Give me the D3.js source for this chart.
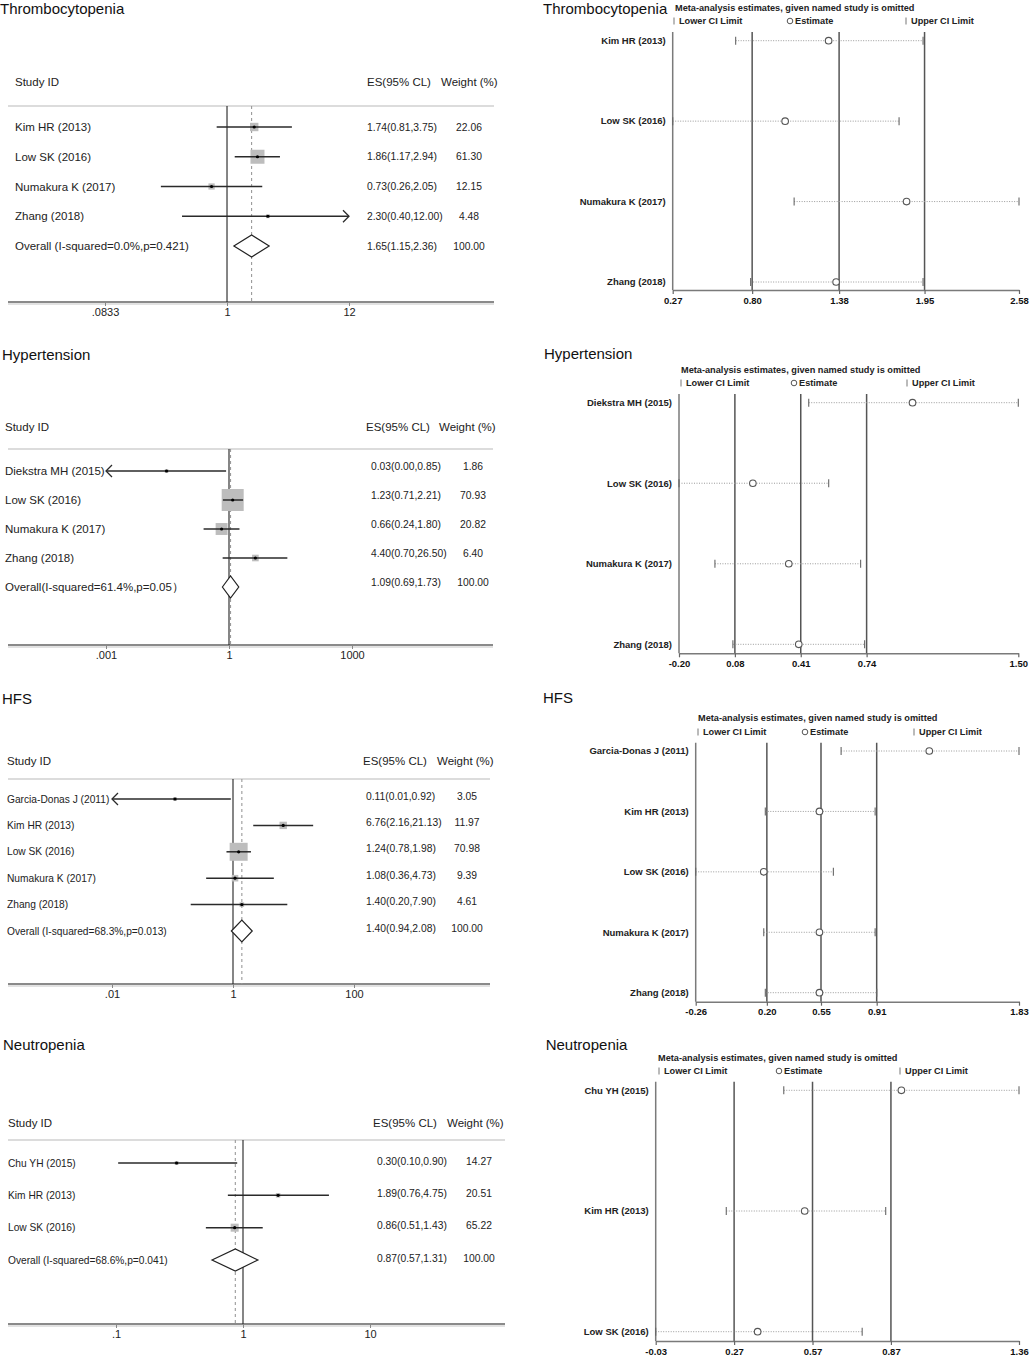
<!DOCTYPE html>
<html><head><meta charset="utf-8">
<script src="https://cdn.jsdelivr.net/npm/d3@7"></script>
<style>
body{margin:0;background:#fff}
svg{display:block;font-family:"Liberation Sans",Arial,sans-serif}
</style>
</head><body>
<svg id="c" width="1031" height="1356"></svg>
<script>
// ---------------- DATA: forest plots (left) ----------------
const thrTitle = "Thrombocytopenia";
const thrStudies = ["Kim HR (2013)", "Low SK (2016)", "Numakura K (2017)", "Zhang (2018)"];
const thrES = [1.74, 1.86, 0.73, 2.30];
const thrLo = [0.81, 1.17, 0.26, 0.40];
const thrHi = [3.75, 2.94, 2.05, 12.00];
const thrW  = [22.06, 61.30, 12.15, 4.48];
const thrOverall = [1.65, 1.15, 2.36, 100.00];
const thrOverallLabel = "Overall (I-squared=0.0%,p=0.421)";
const thrTicks = [0.0833, 1, 12];
const thrTickLabels = [".0833", "1", "12"];

const hypTitle = "Hypertension";
const hypStudies = ["Diekstra MH (2015)", "Low SK (2016)", "Numakura K (2017)", "Zhang (2018)"];
const hypES = [0.03, 1.23, 0.66, 4.40];
const hypLo = [0.00, 0.71, 0.24, 0.70];
const hypHi = [0.85, 2.21, 1.80, 26.50];
const hypW  = [1.86, 70.93, 20.82, 6.40];
const hypOverall = [1.09, 0.69, 1.73, 100.00];
const hypOverallLabel = "Overall(I-squared=61.4%,p=0.05\uFF09";
const hypTicks = [0.001, 1, 1000];
const hypTickLabels = [".001", "1", "1000"];

const hfsTitle = "HFS";
const hfsStudies = ["Garcia-Donas J (2011)", "Kim HR (2013)", "Low SK (2016)", "Numakura K (2017)", "Zhang (2018)"];
const hfsES = [0.11, 6.76, 1.24, 1.08, 1.40];
const hfsLo = [0.01, 2.16, 0.78, 0.36, 0.20];
const hfsHi = [0.92, 21.13, 1.98, 4.73, 7.90];
const hfsW  = [3.05, 11.97, 70.98, 9.39, 4.61];
const hfsOverall = [1.40, 0.94, 2.08, 100.00];
const hfsOverallLabel = "Overall (I-squared=68.3%,p=0.013)";
const hfsTicks = [0.01, 1, 100];
const hfsTickLabels = [".01", "1", "100"];

const neuTitle = "Neutropenia";
const neuStudies = ["Chu YH (2015)", "Kim HR (2013)", "Low SK (2016)"];
const neuES = [0.30, 1.89, 0.86];
const neuLo = [0.104, 0.76, 0.51];
const neuHi = [0.90, 4.75, 1.43];
const neuW  = [14.27, 20.51, 65.22];
const neuOverall = [0.87, 0.57, 1.31, 100.00];
const neuOverallLabel = "Overall (I-squared=68.6%,p=0.041)";
const neuTicks = [0.1, 1, 10];
const neuTickLabels = [".1", "1", "10"];

// ---------------- DATA: influence plots (right) ----------------
const infHeader = "Meta-analysis estimates, given named study is omitted";
const thrInfStudies = ["Kim HR (2013)", "Low SK (2016)", "Numakura K (2017)", "Zhang (2018)"];
const thrInfLo  = [0.69, 0.27, 1.08, 0.79];
const thrInfEst = [1.31, 1.02, 1.83, 1.36];
const thrInfHi  = [1.94, 1.78, 2.58, 1.94];
const thrInfTicks = [0.27, 0.80, 1.38, 1.95, 2.58];

const hypInfStudies = ["Diekstra MH (2015)", "Low SK (2016)", "Numakura K (2017)", "Zhang (2018)"];
const hypInfLo  = [0.45, -0.20, -0.02, 0.07];
const hypInfEst = [0.97, 0.17, 0.35, 0.40];
const hypInfHi  = [1.50, 0.55, 0.71, 0.73];
const hypInfTicks = [-0.20, 0.08, 0.41, 0.74, 1.50];

const hfsInfStudies = ["Garcia-Donas J (2011)", "Kim HR (2013)", "Low SK (2016)", "Numakura K (2017)", "Zhang (2018)"];
const hfsInfLo  = [0.68, 0.19, -0.26, 0.18, 0.19];
const hfsInfEst = [1.25, 0.54, 0.18, 0.54, 0.54];
const hfsInfHi  = [1.83, 0.90, 0.63, 0.90, 0.91];
const hfsInfTicks = [-0.26, 0.20, 0.55, 0.91, 1.83];

const neuInfStudies = ["Chu YH  (2015)", "Kim HR (2013)", "Low SK (2016)"];
const neuInfLo  = [0.46, 0.24, -0.03];
const neuInfEst = [0.91, 0.54, 0.36];
const neuInfHi  = [1.36, 0.85, 0.76];
const neuInfTicks = [-0.03, 0.27, 0.57, 0.87, 1.36];

// ---------------- LAYOUT ----------------
const svg = d3.select("#c");
const f2 = v => v.toFixed(2);

function forest(cfg, d) {
  const g = svg.append("g");
  const x = d3.scaleLog().domain([d.ticks[0], d.ticks[d.ticks.length - 1]]).range(cfg.xr);
  const keys = d.studies.concat(["__overall"]);
  const y = d3.scalePoint().domain(keys).range([cfg.rowTop, cfg.overallY]);
  const box = d3.scaleSqrt().domain([0, d3.max(d.w)]).range([0, cfg.boxMax]);
  const tmin = d.ticks[0], tmax = d.ticks[d.ticks.length - 1];

  g.append("text").attr("x", cfg.titleX).attr("y", cfg.titleY).attr("dy", "0.35em")
    .style("font-size", "15px").attr("fill", "#111").text(d.title);

  const hs = g.append("g").style("font-size", "11.5px").attr("fill", "#222");
  hs.append("text").attr("x", cfg.labX).attr("y", cfg.headY).attr("dy", "0.35em").text("Study ID");
  hs.append("text").attr("x", cfg.esHeadX).attr("y", cfg.headY).attr("dy", "0.35em").text("ES(95% CL)");
  hs.append("text").attr("x", cfg.wHeadX).attr("y", cfg.headY).attr("dy", "0.35em").text("Weight (%)");

  g.append("line").attr("x1", cfg.ext[0]).attr("x2", cfg.ext[1]).attr("y1", cfg.lineY).attr("y2", cfg.lineY)
    .attr("stroke", "#dcdcdc").attr("stroke-width", 2);

  // axis
  g.append("line").attr("x1", cfg.ext[0]).attr("x2", cfg.ext[1]).attr("y1", cfg.axisY).attr("y2", cfg.axisY)
    .attr("stroke", "#8a8a8a").attr("stroke-width", 2);
  g.append("line").attr("x1", cfg.ext[0]).attr("x2", cfg.ext[1]).attr("y1", cfg.axisY + 2).attr("y2", cfg.axisY + 2)
    .attr("stroke", "#e2e2e2").attr("stroke-width", 2);
  const ax = g.append("g").attr("transform", `translate(0,${cfg.axisY})`)
    .call(d3.axisBottom(x).tickValues(d.ticks).tickFormat((t, i) => d.tickLabels[i])
      .tickSizeInner(4).tickSizeOuter(0).tickPadding(2));
  ax.select(".domain").remove();
  ax.selectAll(".tick line").attr("stroke", "#888");
  ax.selectAll(".tick text").attr("fill", "#222").style("font-size", "11px")
    .style("font-family", "Liberation Sans, Arial, sans-serif");

  // reference lines
  g.append("line").attr("x1", x(1)).attr("x2", x(1)).attr("y1", cfg.lineY).attr("y2", cfg.axisY)
    .attr("stroke", "#222").attr("stroke-width", 1.1);
  g.append("line").attr("x1", x(d.overall[0])).attr("x2", x(d.overall[0]))
    .attr("y1", cfg.lineY).attr("y2", cfg.axisY)
    .attr("stroke", "#9a9a9a").attr("stroke-width", 1.1).attr("stroke-dasharray", "3,3");

  const rows = d.studies.map((s, i) => ({ s, es: d.es[i], lo: d.lo[i], hi: d.hi[i], w: d.w[i] }));
  rows.forEach(r => {
    const yy = y(r.s);
    const s = box(r.w);
    g.append("rect").attr("x", x(r.es) - s / 2).attr("y", yy - s / 2).attr("width", s).attr("height", s)
      .attr("fill", "#bdbdbd");
    const loC = r.lo <= tmin, hiC = r.hi >= tmax;
    const xl = x(Math.max(r.lo, tmin)), xh = x(Math.min(r.hi, tmax));
    g.append("line").attr("x1", xl).attr("x2", xh).attr("y1", yy).attr("y2", yy)
      .attr("stroke", "#2a2a2a").attr("stroke-width", 1.5);
    if (loC) g.append("polyline").attr("points", `${xl + 6},${yy - 6} ${xl},${yy} ${xl + 6},${yy + 6}`)
      .attr("fill", "none").attr("stroke", "#2a2a2a").attr("stroke-width", 1.3);
    if (hiC) g.append("polyline").attr("points", `${xh - 6},${yy - 6} ${xh},${yy} ${xh - 6},${yy + 6}`)
      .attr("fill", "none").attr("stroke", "#2a2a2a").attr("stroke-width", 1.3);
    g.append("circle").attr("cx", x(r.es)).attr("cy", yy).attr("r", 1.6).attr("fill", "#000");
    g.append("text").attr("x", cfg.labX).attr("y", yy).attr("dy", "0.35em")
      .style("font-size", cfg.labFont + "px").attr("fill", "#222").text(r.s);
    g.append("text").attr("x", cfg.esX).attr("y", yy + cfg.valDy).attr("dy", "0.35em")
      .style("font-size", "10.3px").attr("fill", "#222")
      .text(`${f2(r.es)}(${f2(r.lo)},${f2(r.hi)})`);
    g.append("text").attr("x", cfg.wX).attr("y", yy + cfg.valDy).attr("dy", "0.35em")
      .attr("text-anchor", "middle").style("font-size", "10.3px").attr("fill", "#222").text(f2(r.w));
  });

  // overall
  const yo = y("__overall");
  const [oe, ol, oh, ow] = d.overall;
  g.append("polygon")
    .attr("points", [[x(ol), yo], [x(oe), yo - 11], [x(oh), yo], [x(oe), yo + 11]].map(p => p.join(",")).join(" "))
    .attr("fill", "#fff").attr("stroke", "#222").attr("stroke-width", 1.2);
  g.append("text").attr("x", cfg.labX).attr("y", yo).attr("dy", "0.35em")
    .style("font-size", cfg.labFont + "px").attr("fill", "#222").text(d.overallLabel);
  g.append("text").attr("x", cfg.esX).attr("y", yo + cfg.valDy).attr("dy", "0.35em")
    .style("font-size", "10.3px").attr("fill", "#222").text(`${f2(oe)}(${f2(ol)},${f2(oh)})`);
  g.append("text").attr("x", cfg.wX).attr("y", yo + cfg.valDy).attr("dy", "0.35em")
    .attr("text-anchor", "middle").style("font-size", "10.3px").attr("fill", "#222").text(f2(ow));
}

function influence(cfg, d) {
  const g = svg.append("g");
  const x = d3.scaleLinear().domain([d.ticks[0], d.ticks[d.ticks.length - 1]]).range([cfg.axisLeft, cfg.axisRight]);
  const y = d3.scalePoint().domain(d.studies).range([cfg.rowTop, cfg.rowBottom]);

  g.append("text").attr("x", cfg.titleX).attr("y", cfg.titleY).attr("dy", "0.35em")
    .style("font-size", "15px").attr("fill", "#111").text(d.title);
  g.append("text").attr("x", cfg.headX).attr("y", cfg.headY).attr("dy", "0.35em")
    .style("font-size", "9.2px").style("font-weight", "bold").attr("fill", "#222").text(infHeader);

  // legend
  const lg = g.append("g").style("font-size", "9.2px").style("font-weight", "bold").attr("fill", "#222");
  [[cfg.legLo, "Lower CI Limit"], [cfg.legHi, "Upper CI Limit"]].forEach(([lx, t]) => {
    lg.append("line").attr("x1", lx).attr("x2", lx).attr("y1", cfg.legY - 3.5).attr("y2", cfg.legY + 3.5)
      .attr("stroke", "#777").attr("stroke-width", 1);
    lg.append("text").attr("x", lx + 5).attr("y", cfg.legY).attr("dy", "0.35em").text(t);
  });
  lg.append("circle").attr("cx", cfg.legEst).attr("cy", cfg.legY).attr("r", 2.8)
    .attr("fill", "#fff").attr("stroke", "#555").attr("stroke-width", 1);
  lg.append("text").attr("x", cfg.legEst + 5).attr("y", cfg.legY).attr("dy", "0.35em").text("Estimate");

  // frame + reference lines
  g.append("line").attr("x1", cfg.axisLeft).attr("x2", cfg.axisLeft).attr("y1", cfg.top).attr("y2", cfg.axisY)
    .attr("stroke", "#7a7a7a").attr("stroke-width", 1.5);
  d.ticks.slice(1, d.ticks.length - 1).forEach(t => {
    g.append("line").attr("x1", x(t)).attr("x2", x(t)).attr("y1", cfg.top).attr("y2", cfg.axisY)
      .attr("stroke", "#555").attr("stroke-width", 1.5);
  });

  const ax = g.append("g").attr("transform", `translate(0,${cfg.axisY})`)
    .call(d3.axisBottom(x).tickValues(d.ticks).tickFormat(f2).tickSizeInner(4).tickSizeOuter(0).tickPadding(3));
  ax.select(".domain").attr("stroke", "#7a7a7a").attr("stroke-width", 1.5);
  ax.selectAll(".tick line").attr("stroke", "#666").attr("stroke-width", 1.2);
  ax.selectAll(".tick text").attr("fill", "#111").style("font-size", "9.5px").style("font-weight", "bold")
    .style("font-family", "Liberation Sans, Arial, sans-serif");

  d.studies.forEach((s, i) => {
    const yy = y(s);
    g.append("line").attr("x1", x(d.lo[i])).attr("x2", x(d.hi[i])).attr("y1", yy).attr("y2", yy)
      .attr("stroke", "#9a9a9a").attr("stroke-width", 1).attr("stroke-dasharray", "1,1.5");
    [d.lo[i], d.hi[i]].forEach(v => {
      g.append("line").attr("x1", x(v)).attr("x2", x(v)).attr("y1", yy - 4).attr("y2", yy + 4)
        .attr("stroke", "#666").attr("stroke-width", 1.1);
    });
    g.append("circle").attr("cx", x(d.est[i])).attr("cy", yy).attr("r", 3.3)
      .attr("fill", "#fff").attr("stroke", "#555").attr("stroke-width", 1.1);
    g.append("text").attr("x", cfg.axisLeft - 7).attr("y", yy).attr("dy", "0.35em")
      .attr("text-anchor", "end").style("font-size", "9.5px").style("font-weight", "bold")
      .attr("fill", "#222").text(s);
  });
}

forest({ titleX: 0, titleY: 9, headY: 82, lineY: 106, rowTop: 127, overallY: 246, axisY: 302,
  xr: [105, 349], ext: [8, 494], labX: 15, labFont: 11.5, esHeadX: 367, esX: 367, wHeadX: 441, wX: 469,
  valDy: 0, boxMax: 14 },
  { title: thrTitle, studies: thrStudies, es: thrES, lo: thrLo, hi: thrHi, w: thrW, overall: thrOverall,
    overallLabel: thrOverallLabel, ticks: thrTicks, tickLabels: thrTickLabels });

forest({ titleX: 2, titleY: 355, headY: 427, lineY: 449, rowTop: 471, overallY: 587, axisY: 645,
  xr: [106, 352], ext: [8, 493], labX: 5, labFont: 11.5, esHeadX: 366, esX: 371, wHeadX: 439, wX: 473,
  valDy: -5, boxMax: 22 },
  { title: hypTitle, studies: hypStudies, es: hypES, lo: hypLo, hi: hypHi, w: hypW, overall: hypOverall,
    overallLabel: hypOverallLabel, ticks: hypTicks, tickLabels: hypTickLabels });

forest({ titleX: 2, titleY: 699, headY: 761, lineY: 779, rowTop: 799, overallY: 931, axisY: 984,
  xr: [112, 354], ext: [8, 490], labX: 7, labFont: 10.2, esHeadX: 363, esX: 366, wHeadX: 437, wX: 467,
  valDy: -3, boxMax: 18 },
  { title: hfsTitle, studies: hfsStudies, es: hfsES, lo: hfsLo, hi: hfsHi, w: hfsW, overall: hfsOverall,
    overallLabel: hfsOverallLabel, ticks: hfsTicks, tickLabels: hfsTickLabels });

forest({ titleX: 3, titleY: 1045, headY: 1123, lineY: 1140, rowTop: 1163, overallY: 1260, axisY: 1324,
  xr: [116, 370], ext: [8, 505], labX: 8, labFont: 10.2, esHeadX: 373, esX: 377, wHeadX: 447, wX: 479,
  valDy: -2, boxMax: 8 },
  { title: neuTitle, studies: neuStudies, es: neuES, lo: neuLo, hi: neuHi, w: neuW, overall: neuOverall,
    overallLabel: neuOverallLabel, ticks: neuTicks, tickLabels: neuTickLabels });

influence({ titleX: 543, titleY: 9, headX: 675, headY: 8, legY: 21, legLo: 674, legEst: 790, legHi: 906,
  axisLeft: 672.7, axisRight: 1019, top: 32, rowTop: 40.7, rowBottom: 282, axisY: 290 },
  { title: thrTitle, studies: thrInfStudies, lo: thrInfLo, est: thrInfEst, hi: thrInfHi, ticks: thrInfTicks });

influence({ titleX: 544, titleY: 354, headX: 681, headY: 370, legY: 383, legLo: 681, legEst: 794, legHi: 907,
  axisLeft: 679, axisRight: 1018.3, top: 394, rowTop: 402.7, rowBottom: 644.3, axisY: 653.3 },
  { title: hypTitle, studies: hypInfStudies, lo: hypInfLo, est: hypInfEst, hi: hypInfHi, ticks: hypInfTicks });

influence({ titleX: 543, titleY: 698, headX: 698, headY: 718, legY: 732, legLo: 698, legEst: 805, legHi: 914,
  axisLeft: 695.7, axisRight: 1019, top: 742.7, rowTop: 751, rowBottom: 992.7, axisY: 1001.7 },
  { title: hfsTitle, studies: hfsInfStudies, lo: hfsInfLo, est: hfsInfEst, hi: hfsInfHi, ticks: hfsInfTicks });

influence({ titleX: 545.7, titleY: 1045, headX: 658, headY: 1057.7, legY: 1071, legLo: 659, legEst: 779, legHi: 900,
  axisLeft: 655.7, axisRight: 1019, top: 1081.7, rowTop: 1090.3, rowBottom: 1331.7, axisY: 1341 },
  { title: neuTitle, studies: neuInfStudies, lo: neuInfLo, est: neuInfEst, hi: neuInfHi, ticks: neuInfTicks });
</script>
</body></html>
